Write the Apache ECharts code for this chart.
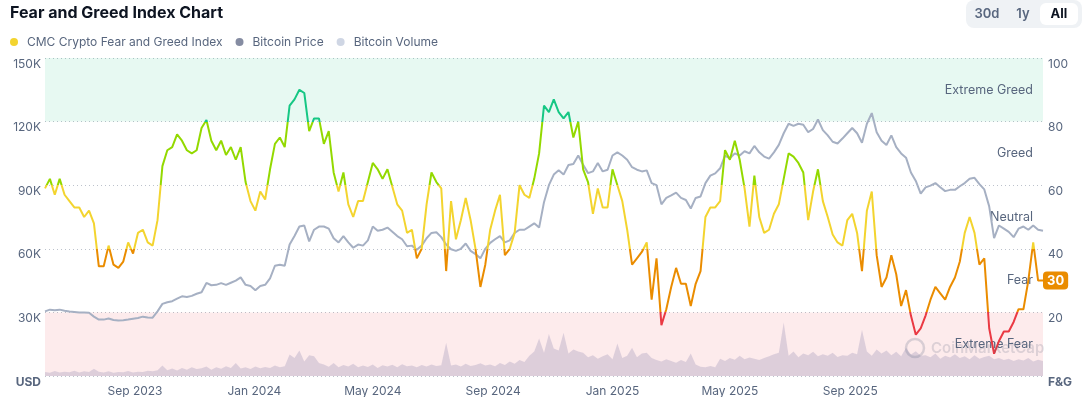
<!DOCTYPE html>
<html><head><meta charset="utf-8">
<script src="https://cdn.jsdelivr.net/npm/echarts@6/dist/echarts.min.js"></script>
<style>html,body{margin:0;padding:0;background:#fff}#c{width:1084px;height:397px}</style>
</head><body><div id="c"></div>
<script>
// Sampling of the series: one reading every 5 days starting 1 June 2023
const sampleStart = [2023, 5, 1];
const stepDays = 5;

// CMC Crypto Fear and Greed Index (0-100)
const fearGreed = [
59,62,57,62,57,55,53,53,50,52,
48,34.5,34.5,41,35,34,36,42,38.5,45,
46,42,41,49,66,71,72,76,74,71,
70,71,78,80.5,74,71,74,69.5,72,68,
72,61,55,52,58,55.5,65,73,75,72,
85,87,90,89,77,81,81,73,77,64,
58,64,54,50,55,55,61,67,65,62,
65,59.5,54,52,45,46,37,40,54,64,
61,59,33,55,43,49,56,49,40,28,
35,46,52,57,38,40,45,60,57,56,
62,70,85,83,87,83,81,83,75,80,
65,61,51,59,53,53,65,60,55,46,
35,37,39,42,24,37,16,21,28,34,
29,29,22,29,33,50,53,53,55,71,
68,74,68,59,47,63,50,45,46,51,
54,62,70,69,67,64,49,58,65,55,
50,44.5,42,41,49,51,45,33,52,58,
38,28,31,38,32,22,27,19,13,15,
19,24,28,26,24,28,31,36,45,50,
45,35,37,15,7,11,14,14,17,21,
21,30,42,30,30
];

// Bitcoin price, thousands of USD
const btcPriceK = [
30.5,31.3,31,31.3,30.8,30.4,30.2,29.9,29.9,29.8,
28,26.6,26.6,27.1,26.4,26.2,26.3,26.6,27,27.4,
28,27.6,27.5,30.5,34,34.8,35.3,36.5,37.6,37.3,
37.8,38.8,39.5,43.9,42.8,43,43.8,43,44,45,
46.5,43,42.5,40.5,42.5,43,46,52,52.5,52,
62,66,70.5,71,63.5,69,70.5,70.5,69.5,65,
63,66,63,60.5,62,61.5,64,70.5,68.5,69,
70,68,66,64.5,61.2,61.5,59.5,61.5,65,67.5,
67.8,65.5,62,59.8,59,60,62.5,59,57.5,55.5,
60,62.8,64.5,66,63,64,67.5,69,69,70.5,
72,70,82,90,95,97,95,99.5,100,104,
99.6,95.7,96.5,100.5,96.5,97.3,104,105.5,104,102,
98.5,97.3,96.5,97,91,90,81,84,85.2,86.5,
84,83,79,84,84.7,91,94.5,95.6,98,104,
102.7,105,104,106,105,108.5,105.5,103.5,102.5,105.5,
109,114.5,119,118,119,118.5,115,116.5,121,116,
113.5,110.5,109.7,112,114.5,117,114.5,110,119,124,
115,111,109,113.5,108,105,103,96,92,86,
89,89.8,91,89,87.2,87.8,87.8,89.5,91,93,
93.5,90.5,88,80,65,71,69.5,68,65.5,69.5,
70.5,69,71,69,68.5
];

// Bitcoin volume, billions of USD
const btcVolumeB = [
14,11,17,12,15,13,18,12,16,14,
25,15,12,16,11,14,13,17,12,15,
14,18,16,20,36,20,26,19,28,22,
30,24,27,33,22,30,25,34,28,45,
26,30,24,33,27,31,28,36,30,34,
74,62,88,50,72,68,45,40,32,45,
30,38,33,42,30,36,31,40,28,37,
33,39,30,41,34,36,30,38,33,40,
35,37,115,36,40,33,42,35,38,44,
36,40,34,45,38,50,42,55,48,70,
85,130,80,145,95,88,150,78,92,85,
80,65,72,60,68,75,58,112,62,70,
98,65,78,80,62,55,50,58,52,46,
55,48,78,40,32,30,35,30,60,52,
62,56,70,58,64,60,55,62,68,75,
80,185,70,85,65,78,72,84,68,75,
70,80,66,72,70,80,75,160,85,70,
92,78,88,72,84,68,98,74,86,70,
72,65,78,60,70,64,75,62,68,58,
72,60,66,70,58,62,55,60,52,58,
54,62,50,56,52
];

const xTickDates = ['2023-09-01','2024-01-01','2024-05-01','2024-09-01','2025-01-01','2025-05-01','2025-09-01'];
const monthNames = ['Jan','Feb','Mar','Apr','May','Jun','Jul','Aug','Sep','Oct','Nov','Dec'];
const zoneNames = ['Extreme Fear','Fear','Neutral','Greed','Extreme Greed'];
const zoneBounds = [0,20,40,60,80,100];
const zoneColors = ['#ea3943','#ea8c00','#f3d42f','#93d900','#16c784'];
const zoneFills = ['rgba(234,57,67,0.1)','rgba(0,0,0,0)','rgba(0,0,0,0)','rgba(0,0,0,0)','rgba(22,199,132,0.1)'];

const times = fearGreed.map((_, i) => new Date(sampleStart[0], sampleStart[1], sampleStart[2] + i * stepDays).getTime());
const pairs = (arr, k) => arr.map((v, i) => [times[i], v * k]);
const tickTimes = xTickDates.map(s => { const p = s.split('-').map(Number); return new Date(p[0], p[1]-1, p[2]).getTime(); });

const grey = '#58667e';
const font = 'Inter, "Noto Sans", sans-serif';

const chart = echarts.init(document.getElementById('c'), null, {renderer: 'canvas'});
chart.setOption({
  animation: false,
  textStyle: {fontFamily: font},
  title: {text: 'Fear and Greed Index Chart', left: 10, top: 5, padding: 0,
    textStyle: {fontSize: 16, fontWeight: 700, color: '#0d1421', fontFamily: font}},
  legend: {
    left: 5, top: 31, itemWidth: 16, itemHeight: 8, itemGap: 13, icon: 'circle',
    textStyle: {color: grey, fontSize: 12, fontFamily: font},
    data: [
      {name: 'CMC Crypto Fear and Greed Index', itemStyle: {color: '#f3d42f'}},
      {name: 'Bitcoin Price', itemStyle: {color: '#858ca2'}},
      {name: 'Bitcoin Volume', itemStyle: {color: '#cfd6e4'}}
    ]
  },
  grid: {left: 45, right: 41, top: 58, bottom: 20, containLabel: false},
  xAxis: {
    type: 'value', min: times[0], max: times[times.length-1],
    axisLine: {show: false}, axisTick: {show: false}, splitLine: {show: false},
    axisLabel: {customValues: tickTimes, color: grey, fontSize: 12, margin: 9,
      formatter: v => { const d = new Date(v); return monthNames[d.getMonth()] + ' ' + d.getFullYear(); }}
  },
  yAxis: [
    {type: 'value', position: 'left', min: 0, max: 150000, interval: 30000,
      axisLine: {show: false}, axisTick: {show: false}, splitLine: {show: false},
      axisLabel: {color: grey, fontSize: 12, margin: 4, verticalAlign: 'top',
        formatter: v => v === 0 ? '{b|USD}' : (v/1000) + 'K',
        rich: {b: {fontWeight: 700, color: grey, fontSize: 12, fontFamily: font}}}},
    {type: 'value', position: 'right', min: 0, max: 100, interval: 20,
      axisLine: {show: false}, axisTick: {show: false},
      splitLine: {show: true, lineStyle: {color: '#bcc2cc', type: [1, 3], width: 1}},
      axisLabel: {color: grey, fontSize: 12, margin: 5, verticalAlign: 'top',
        formatter: v => v === 0 ? '{b|F&G}' : String(v),
        rich: {b: {fontWeight: 700, color: grey, fontSize: 12, fontFamily: font}}}},
    {type: 'value', min: 0, max: 1100, show: false}
  ],
  visualMap: {
    type: 'piecewise', show: false, seriesIndex: 2, dimension: 1,
    pieces: [
      {lt: 20, color: zoneColors[0]},
      {gte: 20, lt: 40, color: zoneColors[1]},
      {gte: 40, lt: 60, color: zoneColors[2]},
      {gte: 60, lt: 80, color: zoneColors[3]},
      {gte: 80, color: zoneColors[4]}
    ]
  },
  series: [
    {name: 'Bitcoin Volume', type: 'line', yAxisIndex: 2, data: pairs(btcVolumeB, 1),
      symbol: 'none', lineStyle: {width: 0}, itemStyle: {color: '#cfd6e4'},
      areaStyle: {color: 'rgba(150,140,180,0.3)', opacity: 1}},
    {name: 'Bitcoin Price', type: 'line', yAxisIndex: 0, data: pairs(btcPriceK, 1000),
      symbol: 'none', lineStyle: {width: 2, color: '#a6b0c3'}, itemStyle: {color: '#a6b0c3'}},
    {name: 'CMC Crypto Fear and Greed Index', type: 'line', yAxisIndex: 1, data: pairs(fearGreed, 1),
      symbol: 'none', lineStyle: {width: 2}, itemStyle: {color: '#f3d42f'},
      endLabel: {show: true, formatter: p => String(Math.round(p.value[1])), backgroundColor: '#ea8c00',
        color: '#fff', fontWeight: 700, fontSize: 13, padding: [3, 4, 2, 4], borderRadius: 4, distance: 0, fontFamily: font},
      markArea: {silent: true,
        data: zoneNames.map((n, k) => [
          {yAxis: zoneBounds[k], name: n, itemStyle: {color: zoneFills[k]},
            label: {show: true, position: 'insideRight', distance: 10, color: grey, fontSize: 12.5, fontFamily: font}},
          {yAxis: zoneBounds[k+1]}
        ])}}
  ],
  graphic: [
    {type: 'rect', shape: {x: 966, y: 0, width: 116, height: 28, r: 8}, style: {fill: '#eff2f5'}},
    {type: 'rect', shape: {x: 1040, y: 3, width: 38, height: 22, r: 6}, style: {fill: '#ffffff'}},
    {type: 'text', x: 987, y: 14, style: {text: '30d', fill: grey, font: '600 13px ' + font, textAlign: 'center', textVerticalAlign: 'middle'}},
    {type: 'text', x: 1023, y: 14, style: {text: '1y', fill: grey, font: '600 13px ' + font, textAlign: 'center', textVerticalAlign: 'middle'}},
    {type: 'text', x: 1059, y: 14, style: {text: 'All', fill: '#0d1421', font: '700 13px ' + font, textAlign: 'center', textVerticalAlign: 'middle'}},
    {type: 'circle', shape: {cx: 915, cy: 348, r: 9}, style: {fill: 'none', stroke: 'rgba(88,102,126,0.22)', lineWidth: 2.5}, z: 5},
    {type: 'text', x: 931, y: 348, z: 5, style: {text: 'CoinMarketCap', fill: 'rgba(88,102,126,0.2)', font: '600 15px ' + font, textVerticalAlign: 'middle'}}
  ]
});
</script></body></html>
